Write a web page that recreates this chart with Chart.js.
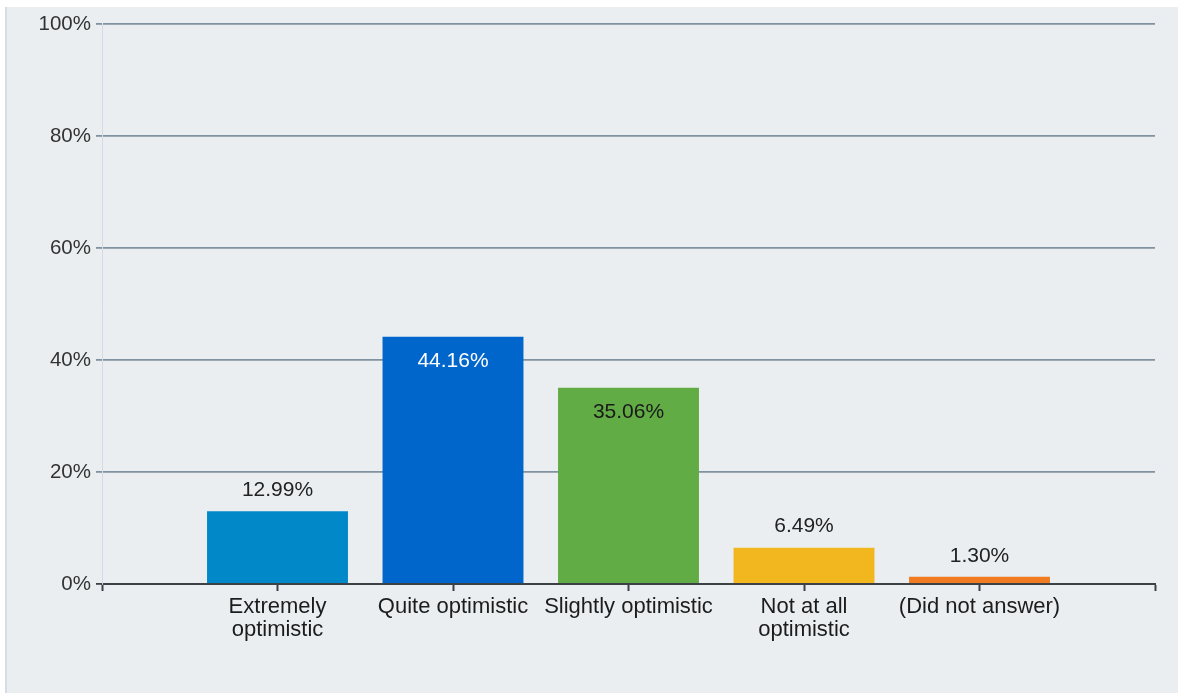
<!DOCTYPE html>
<html>
<head>
<meta charset="utf-8">
<script src="https://cdn.jsdelivr.net/npm/chart.js@4/dist/chart.umd.min.js"></script>
<style>
  html, body { margin: 0; padding: 0; background: #ffffff; }
  #panel {
    position: absolute; left: 5px; top: 7px;
    width: 1171px; height: 686px;
    border-left: 2px solid #d6dde6;
    background: #ebeef1;
  }
</style>
</head>
<body>
<div id="panel"><canvas id="surveyChart"></canvas></div>
<script>
const categories = [
  ["Extremely", "optimistic"],
  "Quite optimistic",
  "Slightly optimistic",
  ["Not at all", "optimistic"],
  "(Did not answer)"
];
const percentages = [12.99, 44.16, 35.06, 6.49, 1.30];
const barColors = ["#0088c9", "#0066cc", "#62ac45", "#f2b71f", "#f07b21"];
const insideLabelColors = ["#222222", "#ffffff", "#1a1a1a", "#222222", "#222222"];
const yTicks = [0, 20, 40, 60, 80, 100];

// empty slot on each side so bars sit on the inner ticks
const labels = [""].concat(categories, [""]);
const values = [null].concat(percentages, [null]);

const FONT = "'Liberation Sans', Arial, sans-serif";

const valueLabels = {
  id: "valueLabels",
  afterDatasetsDraw(chart) {
    const ctx = chart.ctx;
    const meta = chart.getDatasetMeta(0);
    ctx.save();
    ctx.font = "21px " + FONT;
    ctx.textAlign = "center";
    ctx.textBaseline = "middle";
    meta.data.forEach((bar, i) => {
      const v = values[i];
      if (v === null) return;
      const idx = i - 1;
      if (v > 20) {
        ctx.fillStyle = insideLabelColors[idx];
        ctx.fillText(v.toFixed(2) + "%", bar.x, bar.y + 24);
      } else {
        ctx.fillStyle = "#222222";
        ctx.fillText(v.toFixed(2) + "%", bar.x, bar.y - 21);
      }
    });
    ctx.restore();
  }
};

new Chart(document.getElementById("surveyChart").getContext("2d"), {
  type: "bar",
  data: {
    labels: labels,
    datasets: [
      {
        data: values,
        backgroundColor: [null].concat(barColors, [null]),
        borderWidth: 0,
        categoryPercentage: 1,
        barPercentage: 0.803,
      },
    ],
  },
  plugins: [valueLabels],
  options: {
    responsive: true,
    maintainAspectRatio: false,
    animation: false,
    layout: { padding: { top: 15, right: 23, left: 0, bottom: 0 } },
    plugins: {
      legend: { display: false },
      tooltip: { enabled: false },
    },
    scales: {
      x: {
        offset: false,
        afterFit: (scale) => { scale.height = 109; },
        border: { display: true, color: "#3c4146", width: 2 },
        grid: {
          offset: false,
          drawOnChartArea: false,
          drawTicks: true,
          tickLength: 7,
          tickWidth: 2,
          tickColor: "#3c4146",
        },
        ticks: {
          autoSkip: false,
          maxRotation: 0,
          padding: 4,
          color: "#1c1c1c",
          font: { family: FONT, size: 22, lineHeight: 1.05 },
        },
      },
      y: {
        min: 0,
        max: 100,
        afterFit: (scale) => { scale.width = 95; },
        afterBuildTicks: (scale) => { scale.ticks = yTicks.map((v) => ({ value: v })); },
        border: { display: true, color: "#d5d9e8", width: 1 },
        grid: {
          color: (c) => (c.tick && c.tick.value === 0 ? "#3c4146" : "#8192a0"),
          lineWidth: 1.8,
          drawTicks: true,
          tickLength: 6,
        },
        ticks: {
          padding: 5,
          color: "#333333",
          font: { family: FONT, size: 20.5 },
          callback: (v) => v + "%",
        },
      },
    },
  },
});
</script>
</body>
</html>
